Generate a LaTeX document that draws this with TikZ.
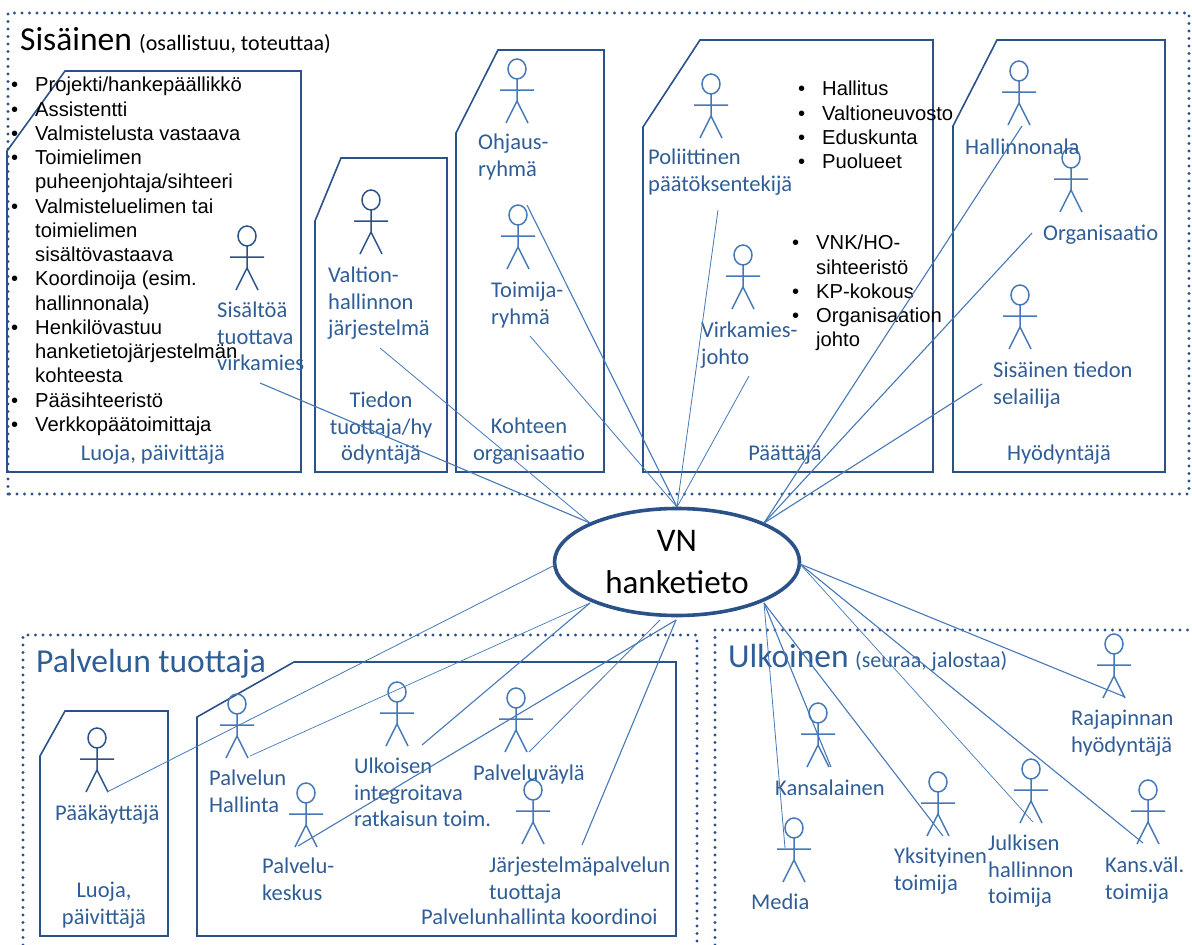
\documentclass[tikz,border=0pt]{standalone}
\usepackage{fontspec}
\setmainfont{Carlito}
\newfontfamily\arialf{Liberation Sans}
\usetikzlibrary{shapes.geometric}
\definecolor{boxblue}{HTML}{2A5289}
\definecolor{textblue}{HTML}{2F5D96}
\definecolor{lineblue}{HTML}{4578B6}
\newcommand{\bl}{\llap{\textbullet\hspace{17pt}}}
\tikzset{
  x=1pt,y=-1pt,
  lbl/.style={inner sep=0pt,text=textblue,font=\fontsize{22.5}{26.5}\selectfont,align=left,anchor=north west,yshift=-4pt},
  clbl/.style={lbl,align=center,anchor=north},
  blist/.style={inner sep=0pt,text=black,font=\arialf\fontsize{20.2}{24.25}\selectfont,align=left,anchor=north west,yshift=-4pt},
  title/.style={inner sep=0pt,font=\fontsize{33.5}{36}\selectfont,anchor=base west},
  subtitle/.style={inner sep=0pt,font=\fontsize{22}{24}\selectfont,anchor=base west},
  groupbox/.style={draw=boxblue,line width=3.2pt,line cap=round,dash pattern=on 0pt off 7.5pt},
  rolebox/.style={draw=boxblue,line width=1.6pt},
  link/.style={draw=lineblue,line width=1.1pt},
  pics/actor/.style={code={
    \draw[line width=1.5pt,draw=#1] (0,0) ellipse (9 and 10);
    \draw[line width=1.5pt,draw=#1] (0,10)--(0,32) (-17,21)--(17,21) (-11,54)--(0,32)--(11,54);
  }},
}
\begin{document}
\begin{tikzpicture}
\useasboundingbox (0,0) rectangle (1192,945);
% dotted groups
\path[groupbox] (8,494)--(8,13)--(1189,13)--(1189,494)--cycle;
\path[groupbox] (23,945)--(23,635)--(697,635)--(697,945);
\path[groupbox] (715,945)--(715,630)--(1192,630);
% role boxes
\path[rolebox] (7,151)--(65,71)--(301,71)--(301,472)--(7,472)--cycle;
\path[rolebox] (315,221)--(341,158)--(447,158)--(447,472)--(315,472)--cycle;
\path[rolebox] (456,133)--(498,50)--(604,50)--(604,472)--(456,472)--cycle;
\path[rolebox] (643,127)--(700,40)--(933,40)--(933,472)--(643,472)--cycle;
\path[rolebox] (953,126)--(997,40)--(1165,40)--(1165,472)--(953,472)--cycle;
\path[rolebox] (40,756)--(65,711)--(168,711)--(168,936)--(40,936)--cycle;
\path[rolebox] (197,717)--(294,662)--(676,662)--(676,936)--(197,936)--cycle;
% titles
\node[title] (tsis) at (20,50) {Sisäinen};
\node[subtitle] (ssis) at (139,50) {(osallistuu, toteuttaa)};
\node[title,text=textblue] (tpal) at (36,672) {Palvelun tuottaja};
\node[title,text=textblue] (tulk) at (728,667) {Ulkoinen};
\node[subtitle,text=textblue] (sulk) at (855,667) {(seuraa, jalostaa)};
% actors
\pic at (247,236) {actor=boxblue};
\pic at (371,200) {actor=boxblue};
\pic at (517,69) {actor=lineblue};
\pic at (518,215) {actor=lineblue};
\pic at (711,84) {actor=lineblue};
\pic at (743,255) {actor=lineblue};
\pic at (1019,71) {actor=lineblue};
\pic at (1071,158) {actor=lineblue};
\pic at (1020,295) {actor=lineblue};
\pic at (97,738) {actor=boxblue};
\pic at (237,704) {actor=lineblue};
\pic at (397,692) {actor=lineblue};
\pic at (516,698) {actor=lineblue};
\pic at (306,793) {actor=lineblue};
\pic at (533,790) {actor=lineblue};
\pic at (818,713) {actor=lineblue};
\pic at (794,828) {actor=lineblue};
\pic at (938,782) {actor=lineblue};
\pic at (1031,769) {actor=lineblue};
\pic at (1148,790) {actor=lineblue};
\pic at (1114,644) {actor=lineblue};
% bullet lists
\node[blist] (l1) at (35,73) {\bl Projekti/hankepäällikkö\\\bl Assistentti\\\bl Valmistelusta vastaava\\\bl Toimielimen\\puheenjohtaja/sihteeri\\\bl Valmisteluelimen tai\\toimielimen\\sisältövastaava\\\bl Koordinoija (esim.\\hallinnonala)\\\bl Henkilövastuu\\hanketietojärjestelmän\\kohteesta\\\bl Pääsihteeristö\\\bl Verkkopäätoimittaja};
\node[blist] (l2) at (822,77) {\bl Hallitus\\\bl Valtioneuvosto\\\bl Eduskunta\\\bl Puolueet};
\node[blist] (l3) at (816,231) {\bl VNK/HO-\\sihteeristö\\\bl KP-kokous\\\bl Organisaation\\johto};
% labels
\node[lbl] (a1) at (217,298) {Sisältöä\\tuottava\\virkamies};
\node[lbl] (a2) at (328,263) {Valtion-\\hallinnon\\järjestelmä};
\node[lbl] (a3) at (478,130) {Ohjaus-\\ryhmä};
\node[lbl] (a4) at (491,278) {Toimija-\\ryhmä};
\node[lbl] (a5) at (648,145) {Poliittinen\\päätöksentekijä};
\node[lbl] (a6) at (701,318) {Virkamies-\\johto};
\node[lbl] (a7) at (965,135) {Hallinnonala};
\node[lbl] (a8) at (1043,221) {Organisaatio};
\node[lbl] (a9) at (993,358) {Sisäinen tiedon\\selailija};
\node[clbl] (r1) at (153,441) {Luoja, päivittäjä};
\node[clbl] (r2) at (381,388) {Tiedon\\tuottaja/hy\\ödyntäjä};
\node[clbl] (r3) at (529,414) {Kohteen\\organisaatio};
\node[clbl] (r4) at (785,441) {Päättäjä};
\node[clbl] (r5) at (1059,441) {Hyödyntäjä};
\node[lbl] (b1) at (55,801) {Pääkäyttäjä};
\node[clbl] (b2) at (104,878) {Luoja,\\päivittäjä};
\node[lbl] (b3) at (209,766) {Palvelun\\Hallinta};
\node[lbl] (b4) at (262,854) {Palvelu-\\keskus};
\node[lbl] (b5) at (354,754) {Ulkoisen\\integroitava\\ratkaisun toim.};
\node[lbl] (b6) at (473,761) {Palveluväylä};
\node[lbl] (b7) at (489,853) {Järjestelmäpalvelun\\tuottaja};
\node[lbl] (b8) at (421,905) {Palvelunhallinta koordinoi};
\node[lbl] (c1) at (775,776) {Kansalainen};
\node[lbl] (c2) at (751,890) {Media};
\node[lbl] (c3) at (894,844) {Yksityinen\\toimija};
\node[lbl] (c4) at (988,831) {Julkisen\\hallinnon\\toimija};
\node[lbl] (c5) at (1105,853) {Kans.väl.\\toimija};
\node[lbl] (c6) at (1071,706) {Rajapinnan\\hyödyntäjä};
% hub
\node[ellipse,draw=boxblue,line width=3.6pt,fill=white,minimum width=245pt,minimum height=107pt,inner sep=0pt,
      font=\fontsize{33}{42}\selectfont,align=center] (hub) at (677,562) {VN\\hanketieto};
% connector ends
\coordinate (hl) at (590,523);
\coordinate (ht) at (677,507);
\coordinate (hr) at (764,523);
\coordinate (hw) at (555,565);
\coordinate (hsw) at (590,603);
\coordinate (hs) at (676,620);
\coordinate (hs2) at (660,620);
\coordinate (hse) at (764,603);
\coordinate (he) at (800,564);
\coordinate (e1) at (260,383);
\coordinate (e2) at (380,348);
\coordinate (e3) at (530,336);
\coordinate (e4) at (527,205);
\coordinate (e5) at (718,210);
\coordinate (e6) at (749,376);
\coordinate (e7) at (1022,126);
\coordinate (e8) at (1032,233);
\coordinate (e9) at (982,384);
\coordinate (s1) at (107,792);
\coordinate (s2) at (250,756);
\coordinate (s3) at (422,745);
\coordinate (s4) at (298,846);
\coordinate (s5) at (529,752);
\coordinate (s6) at (582,845);
\coordinate (u1) at (785,848);
\coordinate (u2) at (831,767);
\coordinate (u3) at (943,836);
\coordinate (u4) at (1033,822);
\coordinate (u5) at (1143,843);
\coordinate (u6) at (1125,697);
% connectors
\draw[link] (e1)--(hl);
\draw[link,line width=.8pt] (e2)--(hl);
\draw[link,line width=.8pt] (e3)--(ht);
\draw[link] (e4)--(ht);
\draw[link,line width=.8pt] (e5)--(ht);
\draw[link,line width=.8pt] (e6)--(ht);
\draw[link] (e7)--(hr);
\draw[link] (e8)--(hr);
\draw[link] (e9)--(hr);
\draw[link,line width=.8pt] (s1)--(hw);
\draw[link,line width=.7pt] (s2)--(hsw);
\draw[link] (s3)--(hsw);
\draw[link] (s4)--(hs);
\draw[link,line width=.8pt] (s5)--(hs2);
\draw[link] (s6)--(hs);
\draw[link,line width=.8pt] (u1)--(hse);
\draw[link] (u2)--(hse);
\draw[link] (u3)--(hse);
\draw[link,line width=.7pt] (u4)--(he);
\draw[link] (u5)--(he);
\draw[link] (u6)--(he);
\end{tikzpicture}
\end{document}
